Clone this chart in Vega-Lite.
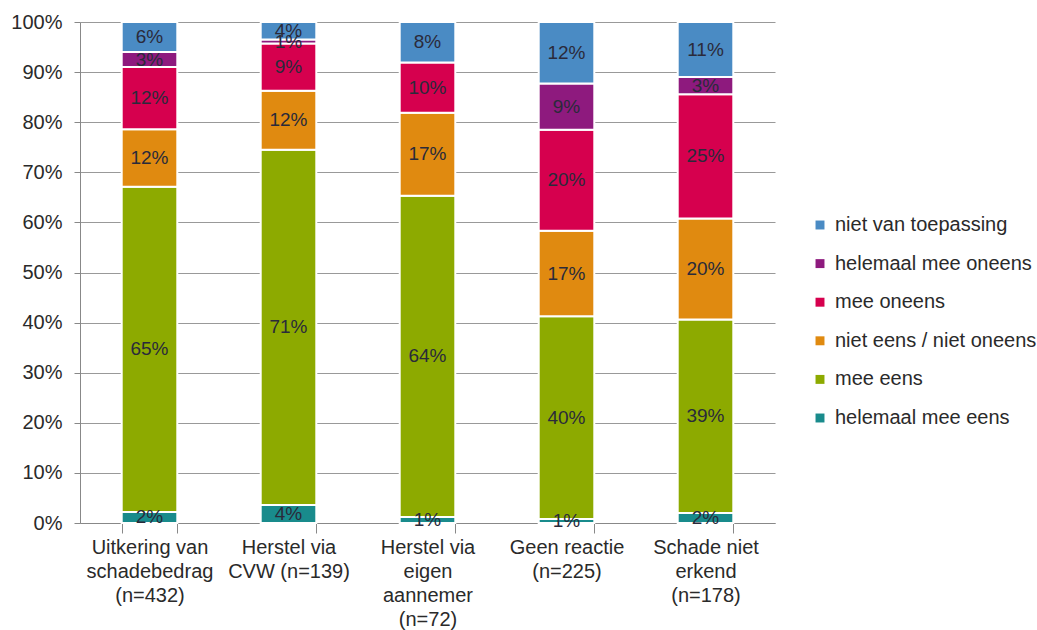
{
  "$schema": "https://vega.github.io/schema/vega-lite/v6.json",
  "width": 695,
  "height": 501,
  "autosize": {"type": "none"},
  "padding": {"left": 80, "top": 22, "right": 262, "bottom": 107},
  "background": "white",
  "config": {
    "font": "Liberation Sans",
    "view": {"stroke": null},
    "axis": {"labelFont": "Liberation Sans", "labelFontSize": 20, "labelColor": "#2a2a2a", "domainColor": "#888", "tickColor": "#888", "gridColor": "#999"}
  },
  "data": {
    "values": [
      {"cat": "Uitkering van\nschadebedrag\n(n=432)", "s": "helemaal mee eens", "k": 1, "v": 0.022},
      {"cat": "Uitkering van\nschadebedrag\n(n=432)", "s": "mee eens", "k": 2, "v": 0.649},
      {"cat": "Uitkering van\nschadebedrag\n(n=432)", "s": "niet eens / niet oneens", "k": 3, "v": 0.115},
      {"cat": "Uitkering van\nschadebedrag\n(n=432)", "s": "mee oneens", "k": 4, "v": 0.124},
      {"cat": "Uitkering van\nschadebedrag\n(n=432)", "s": "helemaal mee oneens", "k": 5, "v": 0.030},
      {"cat": "Uitkering van\nschadebedrag\n(n=432)", "s": "niet van toepassing", "k": 6, "v": 0.060},
      {"cat": "Herstel via\nCVW (n=139)", "s": "helemaal mee eens", "k": 1, "v": 0.036},
      {"cat": "Herstel via\nCVW (n=139)", "s": "mee eens", "k": 2, "v": 0.709},
      {"cat": "Herstel via\nCVW (n=139)", "s": "niet eens / niet oneens", "k": 3, "v": 0.118},
      {"cat": "Herstel via\nCVW (n=139)", "s": "mee oneens", "k": 4, "v": 0.094},
      {"cat": "Herstel via\nCVW (n=139)", "s": "helemaal mee oneens", "k": 5, "v": 0.008},
      {"cat": "Herstel via\nCVW (n=139)", "s": "niet van toepassing", "k": 6, "v": 0.035},
      {"cat": "Herstel via\neigen\naannemer\n(n=72)", "s": "helemaal mee eens", "k": 1, "v": 0.012},
      {"cat": "Herstel via\neigen\naannemer\n(n=72)", "s": "mee eens", "k": 2, "v": 0.641},
      {"cat": "Herstel via\neigen\naannemer\n(n=72)", "s": "niet eens / niet oneens", "k": 3, "v": 0.166},
      {"cat": "Herstel via\neigen\naannemer\n(n=72)", "s": "mee oneens", "k": 4, "v": 0.100},
      {"cat": "Herstel via\neigen\naannemer\n(n=72)", "s": "niet van toepassing", "k": 6, "v": 0.081},
      {"cat": "Geen reactie\n(n=225)", "s": "helemaal mee eens", "k": 1, "v": 0.008},
      {"cat": "Geen reactie\n(n=225)", "s": "mee eens", "k": 2, "v": 0.402},
      {"cat": "Geen reactie\n(n=225)", "s": "niet eens / niet oneens", "k": 3, "v": 0.170},
      {"cat": "Geen reactie\n(n=225)", "s": "mee oneens", "k": 4, "v": 0.200},
      {"cat": "Geen reactie\n(n=225)", "s": "helemaal mee oneens", "k": 5, "v": 0.092},
      {"cat": "Geen reactie\n(n=225)", "s": "niet van toepassing", "k": 6, "v": 0.122},
      {"cat": "Schade niet\nerkend\n(n=178)", "s": "helemaal mee eens", "k": 1, "v": 0.020},
      {"cat": "Schade niet\nerkend\n(n=178)", "s": "mee eens", "k": 2, "v": 0.386},
      {"cat": "Schade niet\nerkend\n(n=178)", "s": "niet eens / niet oneens", "k": 3, "v": 0.202},
      {"cat": "Schade niet\nerkend\n(n=178)", "s": "mee oneens", "k": 4, "v": 0.248},
      {"cat": "Schade niet\nerkend\n(n=178)", "s": "helemaal mee oneens", "k": 5, "v": 0.034},
      {"cat": "Schade niet\nerkend\n(n=178)", "s": "niet van toepassing", "k": 6, "v": 0.110}
    ]
  },
  "encoding": {
    "x": {
      "field": "cat", "type": "nominal", "sort": null, "title": null,
      "scale": {"paddingInner": 0.6, "paddingOuter": 0.3},
      "axis": {"labelAngle": 0, "labelExpr": "split(datum.label, '\\n')", "labelLineHeight": 24, "labelPadding": 4, "tickBand": "extent", "tickSize": 10, "labelBaseline": "top"}
    },
    "order": {"field": "k", "type": "quantitative"}
  },
  "layer": [
    {
      "mark": {"type": "bar", "stroke": "white", "strokeWidth": 2},
      "encoding": {
        "y": {
          "field": "v", "type": "quantitative", "stack": "normalize", "title": null,
          "scale": {"domain": [0, 1]},
          "axis": {"format": ".0%", "values": [0,0.1,0.2,0.3,0.4,0.5,0.6,0.7,0.8,0.9,1], "tickSize": 6, "labelPadding": 12, "grid": true, "labelOverlap": false}
        },
        "color": {
          "field": "s", "type": "nominal", "title": null,
          "scale": {
            "domain": ["niet van toepassing", "helemaal mee oneens", "mee oneens", "niet eens / niet oneens", "mee eens", "helemaal mee eens"],
            "range": ["#4A8BC4", "#8E1A7E", "#D6004E", "#E08A10", "#8DAA00", "#198B8C"]
          },
          "legend": {
            "orient": "none", "legendX": 730, "legendY": 193,
            "symbolType": "square", "symbolSize": 80, "symbolStrokeWidth": 0,
            "labelFontSize": 20, "labelFont": "Liberation Sans", "labelColor": "#2a2a2a",
            "rowPadding": 18.6, "labelOffset": 5, "labelLimit": 300
          }
        }
      }
    },
    {
      "mark": {"type": "text", "fontSize": 19, "color": "#2a2a3a", "baseline": "middle", "font": "Liberation Sans"},
      "encoding": {
        "y": {
          "field": "v", "type": "quantitative", "stack": "normalize", "bandPosition": 0.5, "title": null,
          "axis": {"format": ".0%", "values": [0,0.1,0.2,0.3,0.4,0.5,0.6,0.7,0.8,0.9,1], "tickSize": 6, "labelPadding": 12, "grid": true, "labelOverlap": false}
        },
        "text": {"field": "v", "type": "quantitative", "format": ".0%"}
      }
    }
  ]
}
